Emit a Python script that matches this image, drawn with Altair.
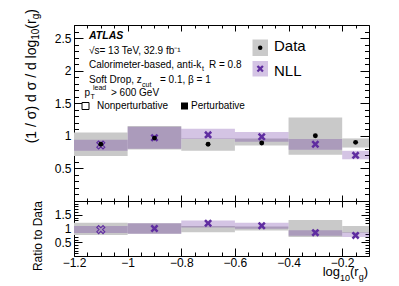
import altair as alt
import pandas as pd

# ---------------- data ----------------
bin_lo = [-1.2, -1.0, -0.8, -0.6, -0.4, -0.2]
bin_hi = [-1.0, -0.8, -0.6, -0.4, -0.2, -0.1]
bin_ctr = [-1.1, -0.9, -0.7, -0.5, -0.3, -0.15]
perturbative = [False, True, True, True, True, True]

data_val = [0.87, 0.965, 0.87, 0.89, 1.00, 0.90]
data_lo = [0.69, 0.79, 0.77, 0.85, 0.71, 0.82]
data_hi = [1.05, 1.15, 0.96, 0.96, 1.28, 0.96]

nll_val = [0.86, 0.97, 1.015, 0.985, 0.87, 0.70]
nll_lo = [0.77, 0.80, 0.95, 0.91, 0.785, 0.64]
nll_hi = [0.94, 1.14, 1.11, 1.06, 0.95, 0.77]

ratio_data_lo = [0.76, 0.81, 0.86, 0.93, 0.69, 0.84]
ratio_data_hi = [1.21, 1.19, 1.09, 1.07, 1.31, 1.09]
ratio_nll_val = [0.96, 1.00, 1.19, 1.10, 0.85, 0.75]
ratio_nll_lo = [0.84, 0.81, 1.04, 0.99, 0.74, 0.69]
ratio_nll_hi = [1.09, 1.19, 1.29, 1.21, 0.94, 0.86]

x_major = [-1.2, -1.0, -0.8, -0.6, -0.4, -0.2]
x_minor = [round(-1.2 + 0.05 * k, 2) for k in range(23)]
y_major_top = [0.5, 1.0, 1.5, 2.0, 2.5]
y_minor_top = [round(0.1 * k, 1) for k in range(1, 27)]
y_major_bot = [0.5, 1.0, 1.5]
y_minor_bot = [round(0.1 * k, 1) for k in range(1, 20)]

# ---------------- style ----------------
FONT = "Liberation Sans"
GRAY = "#c9c9c9"
PURPLE_BAND = "#531393"
PURPLE = "#5f2da0"
XPATH = ("M-1,-0.55L-0.55,-1L0,-0.45L0.55,-1L1,-0.55L0.45,0L1,0.55L0.55,1"
         "L0,0.45L-0.55,1L-1,0.55L-0.45,0Z")
W = 295
H_TOP = 176
H_BOT = 55

xs = alt.Scale(domain=[-1.2, -0.1], nice=False, zero=False)
ys_top = alt.Scale(domain=[0, 2.7], nice=False, zero=False)
ys_bot = alt.Scale(domain=[0, 2], nice=False, zero=False)

df = pd.DataFrame({
    "lo": bin_lo, "hi": bin_hi, "x": bin_ctr, "pert": perturbative,
    "d": data_val, "dlo": data_lo, "dhi": data_hi,
    "n": nll_val, "nlo": nll_lo, "nhi": nll_hi,
    "rdlo": ratio_data_lo, "rdhi": ratio_data_hi,
    "rn": ratio_nll_val, "rnlo": ratio_nll_lo, "rnhi": ratio_nll_hi,
})
df_pert = df[df["pert"]]
df_np = df[~df["pert"]]
one = pd.DataFrame({"k": [0]})


def T(s, x, y, size=10, align="left", baseline="alphabetic", angle=0, **kw):
    return alt.Chart(one).mark_text(
        text=s, align=align, baseline=baseline, angle=angle,
        fontSize=size, font=FONT, color="black", **kw
    ).encode(x=alt.value(x), y=alt.value(y))


def AX(orient, values, size, labels=False, pad=3):
    kw = dict(orient=orient, values=values, tickSize=size, offset=-size,
              domain=False, grid=False, labels=labels, title=None,
              ticks=True, tickColor="black", tickWidth=1)
    if labels:
        kw.update(labelPadding=pad, format=".1~f", labelFont=FONT,
                  labelFontSize=12, labelColor="black", labelOverlap=False,
                  labelFlush=False, labelBound=False)
    return alt.Axis(**kw)


def axis_layer(ys, xaxis, yaxis, yv):
    d = pd.DataFrame({"x": [-0.5], "y": [yv]})
    return alt.Chart(d).mark_point(opacity=0).encode(
        x=alt.X("x:Q", scale=xs, axis=xaxis),
        y=alt.Y("y:Q", scale=ys, axis=yaxis),
    )


def band(d, lo, hi, ys, color, opacity):
    return alt.Chart(d).mark_rect(color=color, opacity=opacity).encode(
        x=alt.X("lo:Q", scale=xs, axis=None), x2="hi:Q",
        y=alt.Y(f"{lo}:Q", scale=ys, axis=None), y2=f"{hi}:Q",
    )


def xmarks(d, field, ys, filled):
    if filled:
        mk = alt.Chart(d).mark_point(shape=XPATH, filled=True, color=PURPLE,
                                     size=64, opacity=1)
    else:
        mk = alt.Chart(d).mark_point(shape=XPATH, filled=False, color=PURPLE,
                                     strokeWidth=1.1, size=64, opacity=1)
    return mk.encode(x=alt.X("x:Q", scale=xs, axis=None),
                     y=alt.Y(f"{field}:Q", scale=ys, axis=None))


# ---------------- top panel ----------------
top_layers = [
    band(df, "dlo", "dhi", ys_top, GRAY, 1.0),
    band(df, "nlo", "nhi", ys_top, PURPLE_BAND, 0.25),
    xmarks(df_pert, "n", ys_top, True),
    xmarks(df_np, "n", ys_top, False),
    alt.Chart(df).mark_point(shape="circle", filled=True, color="black",
                             size=24, opacity=1).encode(
        x=alt.X("x:Q", scale=xs, axis=None),
        y=alt.Y("d:Q", scale=ys_top, axis=None)),
    axis_layer(ys_top, AX("bottom", x_major, 6), AX("left", y_major_top, 9, True, 3), 1.0),
    axis_layer(ys_top, AX("bottom", x_minor, 3), AX("left", y_minor_top, 4.5), 1.0),
    axis_layer(ys_top, AX("top", x_major, 6), AX("right", y_major_top, 9), 1.0),
    axis_layer(ys_top, AX("top", x_minor, 3), AX("right", y_minor_top, 4.5), 1.0),
    # annotations
    T("ATLAS", 15, 13.5, 10.5, fontStyle="italic", fontWeight="bold"),
    T("√s= 13 TeV, 32.9 fb⁻¹", 15, 28.5, 10),
    T("Calorimeter-based, anti-k", 15, 43, 10),
    T("t", 128, 46, 7),
    T("R = 0.8", 135, 43, 10),
    T("Soft Drop, z", 15, 57.5, 10),
    T("cut", 68, 62, 7),
    T("= 0.1, β = 1", 86, 57.5, 10),
    T("p", 10.5, 70.5, 10),
    T("T", 16.5, 74, 7),
    T("lead", 19, 65, 7),
    T("> 600 GeV", 37, 70.5, 10),
    alt.Chart(one).mark_rect(fill="white", stroke="black", strokeWidth=1).encode(
        x=alt.value(8), x2=alt.value(15), y=alt.value(77.5), y2=alt.value(84.5)),
    T("Nonperturbative", 23, 84, 10),
    alt.Chart(one).mark_rect(fill="black").encode(
        x=alt.value(107), x2=alt.value(114), y=alt.value(77.5), y2=alt.value(84.5)),
    T("Perturbative", 117, 84, 10),
    # legend
    alt.Chart(one).mark_rect(fill="#cacaca").encode(
        x=alt.value(178.5), x2=alt.value(194), y=alt.value(14.5), y2=alt.value(31)),
    alt.Chart(one).mark_point(shape="circle", filled=True, color="black", size=20,
                              opacity=1).encode(x=alt.value(186.2), y=alt.value(22.7)),
    T("Data", 200, 26, 15),
    alt.Chart(one).mark_rect(fill="#d4c4e4").encode(
        x=alt.value(178.5), x2=alt.value(194), y=alt.value(36), y2=alt.value(51.5)),
    alt.Chart(one).mark_point(shape=XPATH, filled=True, color=PURPLE, size=50,
                              opacity=1).encode(x=alt.value(186.2), y=alt.value(43.7)),
    T("NLL", 200, 51, 15),
    # y title (rotated, with subscripts)
    T(")", -42, -16, 14, align="right", baseline="middle", angle=270),
    T("g", -38.5, -11.3, 10, align="right", baseline="middle", angle=270),
    T("(r", -42, -5.7, 14, align="right", baseline="middle", angle=270),
    T("10", -38.5, 3.6, 10, align="right", baseline="middle", angle=270),
    T("(1 / σ) d σ / d log", -42, 14.7, 14, align="right", baseline="middle", angle=270),
]
top = alt.layer(*top_layers).resolve_axis(x="independent", y="independent").properties(
    width=W, height=H_TOP)

# ---------------- ratio panel ----------------
bot_layers = [
    band(df, "rdlo", "rdhi", ys_bot, GRAY, 1.0),
    band(df, "rnlo", "rnhi", ys_bot, PURPLE_BAND, 0.25),
    xmarks(df_pert, "rn", ys_bot, True),
    xmarks(df_np, "rn", ys_bot, False),
    axis_layer(ys_bot, AX("bottom", x_major, 8, True, 1), AX("left", y_major_bot, 8, True, 3), 1.0),
    axis_layer(ys_bot, AX("bottom", x_minor, 4), AX("left", y_minor_bot, 4), 1.0),
    axis_layer(ys_bot, AX("top", x_major, 6), AX("right", y_major_bot, 8), 1.0),
    axis_layer(ys_bot, AX("top", x_minor, 3), AX("right", y_minor_bot, 4), 1.0),
    T("Ratio to Data", -36.3, 0, 12, align="right", baseline="middle", angle=270),
    # x title log10(rg)
    T(")", 294, 75, 13, align="right"),
    T("g", 289.7, 79, 9, align="right"),
    T("(r", 284.7, 75, 13, align="right"),
    T("10", 276, 79.5, 9, align="right"),
    T("log", 266, 75, 13, align="right"),
]
bot = alt.layer(*bot_layers).resolve_axis(x="independent", y="independent").properties(
    width=W, height=H_BOT)

chart = alt.vconcat(top, bot, spacing=0, bounds="flush").configure_view(
    stroke="black", strokeWidth=1
).properties(padding={"left": 16, "top": 0, "right": 5, "bottom": 0})

chart.save("out.html", embed_options={"renderer": "svg", "actions": False})
